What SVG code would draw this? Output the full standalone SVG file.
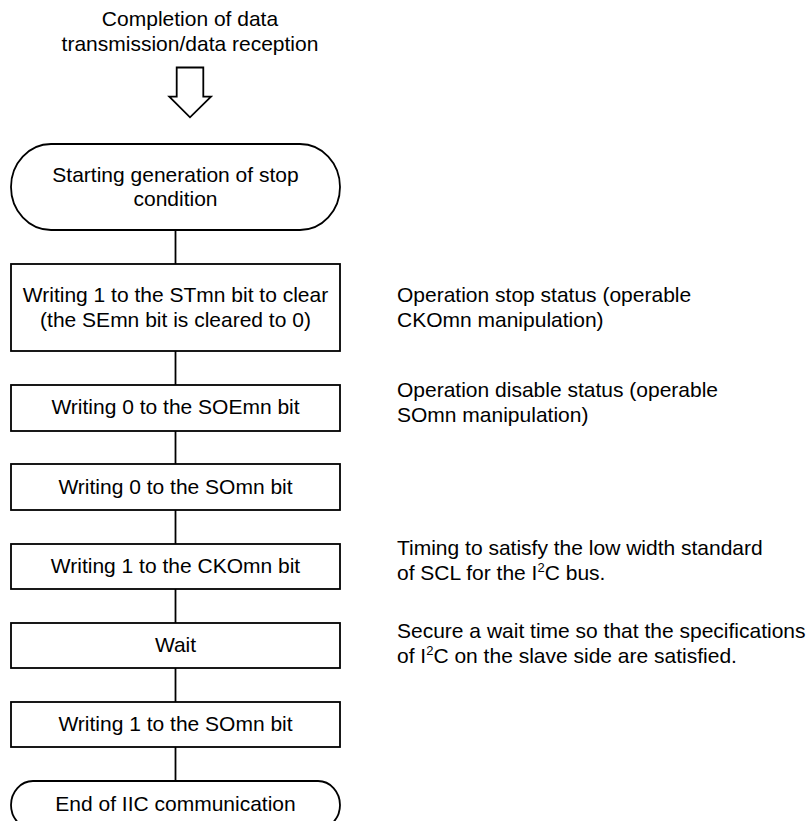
<svg xmlns="http://www.w3.org/2000/svg" width="810" height="821" viewBox="0 0 810 821">
<style>
text{font-family:"Liberation Sans",Arial,sans-serif;font-size:21px;fill:#000}
.c{text-anchor:middle}
.s{fill:#fff;stroke:#000;stroke-width:1.8}
.ln{stroke:#000;stroke-width:1.8;fill:none}
.sup{font-size:13px}
</style>
<rect width="810" height="821" fill="#fff"/>
<g id="top-label">
<text class="c" x="190" y="26">Completion of data</text>
<text class="c" x="190" y="51">transmission/data reception</text>
</g>
<g id="hollow-arrow">
<path class="s" d="M176.7,67.5 H203.3 V96.7 H211 L190,117.3 L169.3,96.7 H176.7 Z"/>
</g>
<g id="connectors">
<line class="ln" x1="175.5" y1="230" x2="175.5" y2="264"/>
<line class="ln" x1="175.5" y1="351" x2="175.5" y2="385"/>
<line class="ln" x1="175.5" y1="431" x2="175.5" y2="464"/>
<line class="ln" x1="175.5" y1="510" x2="175.5" y2="544"/>
<line class="ln" x1="175.5" y1="589" x2="175.5" y2="623"/>
<line class="ln" x1="175.5" y1="668" x2="175.5" y2="702"/>
<line class="ln" x1="175.5" y1="747" x2="175.5" y2="781"/>
</g>
<g id="start">
<rect class="s" x="11" y="144" width="329" height="86" rx="40" ry="43"/>
<text class="c" x="175.5" y="182">Starting generation of stop</text>
<text class="c" x="175.5" y="206">condition</text>
</g>
<g id="step1">
<rect class="s" x="11" y="264" width="329" height="87"/>
<text class="c" x="175.5" y="302">Writing 1 to the STmn bit to clear</text>
<text class="c" x="175.5" y="327">(the SEmn bit is cleared to 0)</text>
</g>
<g id="step2">
<rect class="s" x="11" y="385" width="329" height="46"/>
<text class="c" x="175.5" y="414">Writing 0 to the SOEmn bit</text>
</g>
<g id="step3">
<rect class="s" x="11" y="464" width="329" height="46"/>
<text class="c" x="175.5" y="494">Writing 0 to the SOmn bit</text>
</g>
<g id="step4">
<rect class="s" x="11" y="544" width="329" height="45"/>
<text class="c" x="175.5" y="573">Writing 1 to the CKOmn bit</text>
</g>
<g id="step5">
<rect class="s" x="11" y="623" width="329" height="45"/>
<text class="c" x="175.5" y="652">Wait</text>
</g>
<g id="step6">
<rect class="s" x="11" y="702" width="329" height="45"/>
<text class="c" x="175.5" y="731">Writing 1 to the SOmn bit</text>
</g>
<g id="end">
<rect class="s" x="11" y="781" width="329" height="48" rx="22" ry="24"/>
<text class="c" x="175.5" y="811">End of IIC communication</text>
</g>
<g id="notes">
<text x="397" y="302">Operation stop status (operable</text>
<text x="397" y="327">CKOmn manipulation)</text>
<text x="397" y="397">Operation disable status (operable</text>
<text x="397" y="422">SOmn manipulation)</text>
<text x="397" y="555">Timing to satisfy the low width standard</text>
<text x="397" y="580">of SCL for the I<tspan class="sup" dy="-8">2</tspan><tspan dy="8">C bus.</tspan></text>
<text x="397" y="638">Secure a wait time so that the specifications</text>
<text x="397" y="663">of I<tspan class="sup" dy="-8">2</tspan><tspan dy="8">C on the slave side are satisfied.</tspan></text>
</g>
</svg>
